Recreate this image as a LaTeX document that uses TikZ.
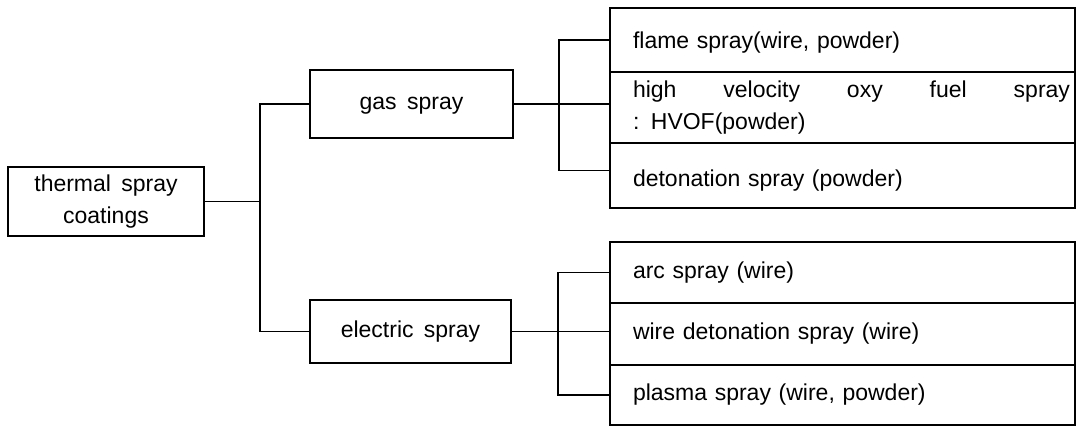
\documentclass[tikz,border=0pt]{standalone}
\usepackage{fontspec}
\setmainfont{Liberation Sans}
\newcommand{\diagfont}{\fontsize{23}{32}\selectfont\spaceskip=0.45em\relax}
\begin{document}
\begin{tikzpicture}[x=1pt,y=-1pt,
  box/.style={draw, line width=1.4pt, inner sep=0pt, outer sep=0pt,
    font=\diagfont},
  mid/.style={box, text height=17pt, text depth=6pt},
  rowbase/.style={box, minimum width=465pt, text width=419pt, align=left},
  rowbox/.style={rowbase, text height=17pt, text depth=6pt},
  wire/.style={line width=1.4pt}]
\useasboundingbox (0,0) rectangle (1080,426);
% nodes
\node[box, minimum width=196pt, minimum height=69pt, align=center] (root) at (106,201.5) {thermal spray\\coatings};
\node[mid, minimum width=203pt, minimum height=68pt] (gas) at (411.5,104) {gas spray};
\node[mid, minimum width=201pt, minimum height=63pt] (elec) at (410.5,331.5) {electric spray};
\node[rowbox, minimum height=64pt] (flame) at (842.5,40) {\raisebox{-2.5pt}[\height][\depth]{flame spray(wire, powder)}};
\node[rowbase, minimum height=71pt] (hvof) at (842.5,107.5) {\makebox[437pt][s]{high\hfill velocity\hfill oxy\hfill fuel\hfill spray}\\: HVOF(powder)};
\node[rowbox, minimum height=65pt] (det) at (842.5,175.5) {\raisebox{-5pt}[\height][\depth]{detonation spray (powder)}};
\node[rowbox, minimum height=61pt] (arc) at (842.5,272.5) {arc spray (wire)};
\node[rowbox, minimum height=62pt] (wdet) at (842.5,334) {wire detonation spray (wire)};
\node[rowbox, minimum height=60pt] (plasma) at (842.5,395) {plasma spray (wire, powder)};
% trunk coordinates
\coordinate (t0) at (260,0);
\coordinate (g0) at (559,0);
\coordinate (e0) at (558,0);
% connectors
\draw[wire] (root.east) -- (root.east -| t0);
\draw[wire] (gas.west) -| (t0 |- elec.west) -- (elec.west);
\draw[wire] (gas.east) -- (gas.east -| hvof.west);
\draw[wire] (flame.west) -| ([yshift=5pt]det.west -| g0) -- ([yshift=5pt]det.west);
\draw[wire] (elec.east) -- (elec.east -| wdet.west);
\draw[wire] (arc.west) -| (plasma.west -| e0) -- (plasma.west);
\end{tikzpicture}
\end{document}
